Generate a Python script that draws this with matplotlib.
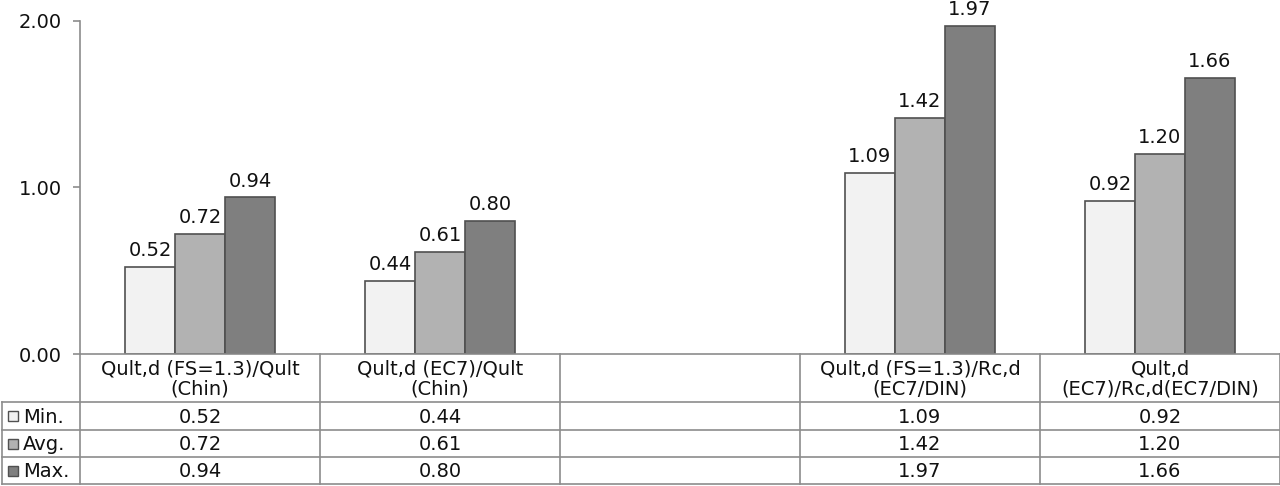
import matplotlib
matplotlib.use("Agg")
import matplotlib.pyplot as plt
from matplotlib.patches import Rectangle
import numpy as np

categories = ["Qult,d (FS=1.3)/Qult\n(Chin)", "Qult,d (EC7)/Qult\n(Chin)", "",
              "Qult,d (FS=1.3)/Rc,d\n(EC7/DIN)", "Qult,d\n(EC7)/Rc,d(EC7/DIN)"]
series_names = ["Min.", "Avg.", "Max."]
min_vals = [0.52, 0.44, None, 1.09, 0.92]
avg_vals = [0.72, 0.61, None, 1.42, 1.20]
max_vals = [0.94, 0.80, None, 1.97, 1.66]
yticks = [0.0, 1.0, 2.0]

series = [min_vals, avg_vals, max_vals]
colors = ["#f2f2f2", "#b2b2b2", "#7f7f7f"]
edge = "#505050"
grid_c = "#8c8c8c"
FS = 14
plt.rcParams['font.family'] = ['DejaVu Sans']

W, H = 1280, 486
fig = plt.figure(figsize=(W / 100, H / 100), dpi=100)

ax_l, ax_r = 80, 1280
ax_top, ax_bot = 21, 354
ax = fig.add_axes([ax_l / W, 1 - ax_bot / H, (ax_r - ax_l) / W, (ax_bot - ax_top) / H])
n = len(categories)
ax.set_xlim(-0.5, n - 0.5)
ax.set_ylim(0, 2.0)
bw = 50 / 240
x = np.arange(n)
for i, (vals, c) in enumerate(zip(series, colors)):
    for j, v in enumerate(vals):
        if v is None:
            continue
        xp = x[j] + (i - 1) * bw
        ax.bar(xp, v, width=bw, color=c, edgecolor=edge, linewidth=1.2, zorder=2)
        ax.annotate(f"{v:.2f}", (xp, v), xytext=(0, 5), textcoords="offset points",
                    ha="center", va="bottom", fontsize=FS, color="#111111")

ax.set_yticks(yticks)
ax.set_yticklabels([f"{t:.2f}" for t in yticks], fontsize=FS, color="#111111")
ax.set_xticks([])
for s in ["top", "right"]:
    ax.spines[s].set_visible(False)
ax.spines["left"].set_color(grid_c)
ax.spines["bottom"].set_color(grid_c)
ax.spines["left"].set_linewidth(1.2)
ax.spines["bottom"].set_linewidth(1.2)
ax.tick_params(axis="y", length=5, width=1.2, color=grid_c, pad=8)

# data table
tb_top, tb_bot = 354, 484
tab = fig.add_axes([0, 1 - tb_bot / H, 1, (tb_bot - tb_top) / H])
x0 = -0.5 - ax_l / 240
tab.set_xlim(x0, n - 0.5)
tab.set_ylim(tb_bot - tb_top, 0)
tab.axis("off")
hdr = 402 - tb_top
row_edges = [hdr, 430 - tb_top, 457 - tb_top, tb_bot - tb_top]
lw = 1.2
for k, ry in enumerate(row_edges):
    tab.plot([x0 + 2 / 240, n - 0.5], [ry, ry], color=grid_c, lw=lw, clip_on=False)
for k in range(n + 1):
    xv = k - 0.5
    if k == n:
        xv = n - 0.5 - 0.5 / 240
    tab.plot([xv, xv], [0, row_edges[-1]], color=grid_c, lw=lw, clip_on=False)
tab.plot([x0 + 2 / 240] * 2, [hdr, row_edges[-1]], color=grid_c, lw=lw, clip_on=False)

for j, cat in enumerate(categories):
    tab.text(x[j], hdr / 2 + 1, cat, ha="center", va="center", fontsize=FS,
             color="#111111", linespacing=1.05)
for i, (name, vals, c) in enumerate(zip(series_names, series, colors)):
    yc = (row_edges[i] + row_edges[i + 1]) / 2
    tab.add_patch(Rectangle((x0 + 8 / 240, yc - 5), 10 / 240, 10,
                            facecolor=c, edgecolor=edge, lw=1.0, clip_on=False))
    tab.text(x0 + 23 / 240, yc + 1, name, ha="left", va="center", fontsize=FS, color="#111111")
    for j, v in enumerate(vals):
        if v is None:
            continue
        tab.text(x[j], yc + 1, f"{v:.2f}", ha="center", va="center", fontsize=FS, color="#111111")

fig.savefig("out.png", dpi=100)
